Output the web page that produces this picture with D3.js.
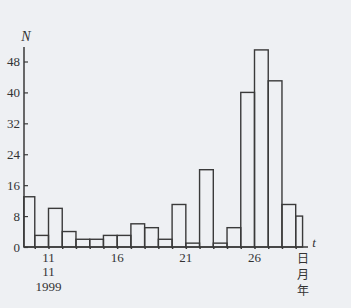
<!DOCTYPE html>
<html><head><meta charset="utf-8">
<script src="https://cdn.jsdelivr.net/npm/d3@7/dist/d3.min.js"></script>
<style>
html,body{margin:0;padding:0;background:#eef0f3;}
svg{display:block;}
</style></head><body>
<svg id="c" width="351" height="308"></svg>
<script>
// bin edges (day of November 1999) and counts
const binStarts = [9.2,10,11,12,13,14,15,16,17,18,19,20,21,22,23,24,25,26,27,28,29];
const binEnds   = [10,11,12,13,14,15,16,17,18,19,20,21,22,23,24,25,26,27,28,29,29.5];
const counts    = [13,3,10,4,2,2,3,3,6,5,2,11,1,20,1,5,40,51,43,11,8];
const yTicks = [0,8,16,24,32,40,48];
const xTickDays = [10,11,12,13,14,15,16,17,18,19,20,21,22,23,24,25,26,27,28,29];
const xLabelDays = [11,16,21,26];

const svg = d3.select("#c");
const ink = "#3a3a3a";
const x = d3.scaleLinear().domain([11,26]).range([48.5,254.5]);
const y = d3.scaleLinear().domain([0,48]).range([247,61.5]);
const x0 = 24, y0 = y(0);
const serif = "'Liberation Serif','DejaVu Serif',serif";

// bars
svg.append("g").selectAll("rect").data(counts).join("rect")
  .attr("x", (d,i)=>x(binStarts[i]))
  .attr("width", (d,i)=>x(binEnds[i])-x(binStarts[i]))
  .attr("y", d=>y(d))
  .attr("height", d=>y0-y(d))
  .attr("fill","none").attr("stroke",ink).attr("stroke-width",1.4);

// y axis
const gy = svg.append("g").attr("transform",`translate(${x0},0)`)
  .call(d3.axisRight(y).tickValues(yTicks).tickSize(4).tickFormat(""));
gy.select(".domain").remove();
gy.selectAll(".tick line").attr("stroke",ink).attr("stroke-width",1.2);
svg.append("line").attr("x1",x0).attr("x2",x0).attr("y1",y0).attr("y2",47)
  .attr("stroke",ink).attr("stroke-width",1.5);
svg.append("g").selectAll("text").data(yTicks).join("text")
  .attr("x",20).attr("y",d=>y(d)).attr("dy","0.35em")
  .attr("text-anchor","end").attr("font-family",serif).attr("font-size",13)
  .attr("fill","#333").text(d=>d);
svg.append("text").attr("x",26).attr("y",41).attr("text-anchor","middle")
  .attr("font-family",serif).attr("font-style","italic").attr("font-size",14)
  .attr("fill","#333").text("N");

// x axis
svg.append("line").attr("x1",x0).attr("x2",308).attr("y1",y0).attr("y2",y0)
  .attr("stroke",ink).attr("stroke-width",1.5);
const gx = svg.append("g").attr("transform",`translate(0,${y0})`)
  .call(d3.axisBottom(x).tickValues(xTickDays).tickSize(2).tickFormat(""));
gx.select(".domain").remove();
gx.selectAll(".tick line").attr("stroke",ink).attr("stroke-width",1.5);
svg.append("g").selectAll("text").data(xLabelDays).join("text")
  .attr("x",d=>x(d)).attr("y",262).attr("text-anchor","middle")
  .attr("font-family",serif).attr("font-size",13).attr("fill","#333").text(d=>d);
svg.append("text").attr("x",x(11)).attr("y",276).attr("text-anchor","middle")
  .attr("font-family",serif).attr("font-size",13).attr("fill","#333").text("11");
svg.append("text").attr("x",x(11)).attr("y",291).attr("text-anchor","middle")
  .attr("font-family",serif).attr("font-size",13).attr("fill","#333").text("1999");
svg.append("text").attr("x",314).attr("y",247).attr("text-anchor","middle")
  .attr("font-family",serif).attr("font-style","italic").attr("font-size",13)
  .attr("fill","#333").text("t");
["日","月","年"].forEach((t,i)=>{
  svg.append("text").attr("x",303).attr("y",263+i*16).attr("text-anchor","middle")
    .attr("font-family","'Noto Sans CJK SC',sans-serif").attr("font-size",12)
    .attr("fill","#333").text(t);
});
</script>
</body></html>
